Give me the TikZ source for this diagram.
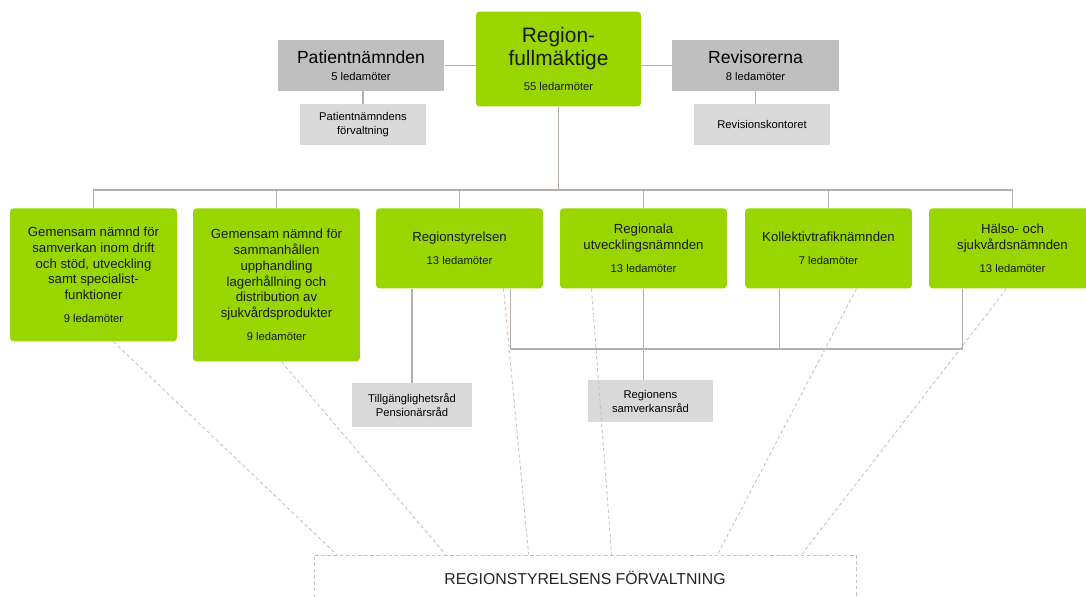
\documentclass[tikz,border=0pt]{standalone}
\usepackage{fontspec}
\setmainfont{Liberation Sans}
\usetikzlibrary{calc}

\definecolor{grn}{HTML}{99D600}
\definecolor{hdgray}{HTML}{BFBFBF}
\definecolor{subgray}{HTML}{D9D9D9}
\definecolor{linegray}{HTML}{B8AEA8}
\definecolor{dashgray}{HTML}{C4C4C4}

\newcommand{\ledam}[1]{{\fontsize{6.4}{8}\selectfont #1 ledamöter}}

\tikzset{
  greenbox/.style={fill=grn, rounded corners=2pt, minimum width=3.34cm, align=center, inner sep=0pt,
    font=\fontsize{7.5}{9}\selectfont, text=black!90},
  headbox/.style={fill=hdgray, minimum width=3.34cm, minimum height=1.02cm, align=center, inner sep=0pt,
    font=\fontsize{10}{11}\selectfont},
  subbox/.style={fill=subgray, align=center, inner sep=0pt, font=\fontsize{6.4}{8}\selectfont},
  conn/.style={draw=linegray, line width=0.8pt},
  dotline/.style={draw=dashgray, line width=0.5pt, dash pattern=on 2pt off 1.5pt}
}

\begin{document}
\begin{tikzpicture}[x=0.02cm, y=-0.02cm]
    \useasboundingbox (0,0) rectangle (1086,596);

    % top level
    \node[greenbox, minimum width=3.3cm, minimum height=1.9cm, font=\fontsize{11.9}{13}\selectfont] (rf) at (558.5,59)
        {Region-\\fullmäktige\\[1pt]{\fontsize{6.4}{8}\selectfont 55 ledarmöter}};
    \node[headbox] (pn) at (361,65.5) {Patientnämnden\\[-1pt]\ledam{5}};
    \node[headbox] (rev) at (755.5,65.5) {Revisorerna\\[-1pt]\ledam{8}};
    \node[subbox, minimum width=2.52cm, minimum height=0.82cm] (pnf) at (363,124.5)
        {Patientnämndens\\förvaltning};
    \node[subbox, minimum width=2.74cm, minimum height=0.82cm] (rk) at (762,124.5) {Revisionskontoret};

    \draw[conn] (pn.east) -- (rf.west |- pn.east);
    \draw[conn] (rev.west) -- (rf.east |- rev.west);
    \draw[conn] (pnf.north |- pn.south) -- (pnf.north);
    \draw[conn] (rev.south) -- (rev.south |- rk.north);

    % committees
    \node[greenbox, minimum height=2.66cm, anchor=north] (b1) at (93.5,208)
        {Gemensam nämnd för\\samverkan inom drift\\och stöd, utveckling\\samt specialist-\\funktioner\\[4pt]\ledam{9}};
    \node[greenbox, minimum height=3.06cm, anchor=north] (b2) at (276.5,208)
        {Gemensam nämnd för\\sammanhållen\\upphandling\\lagerhållning och\\distribution av\\sjukvårdsprodukter\\[4pt]\ledam{9}};
    \node[greenbox, minimum height=1.6cm, anchor=north] (rs) at (459.5,208)
        {Regionstyrelsen\\[4pt]\ledam{13}};
    \node[greenbox, minimum height=1.6cm, anchor=north] (run) at (643.5,208)
        {Regionala\\utvecklingsnämnden\\[4pt]\ledam{13}};
    \node[greenbox, minimum height=1.6cm, anchor=north] (kt) at (828.5,208)
        {Kollektivtrafiknämnden\\[4pt]\ledam{7}};
    \node[greenbox, minimum height=1.6cm, anchor=north] (hs) at (1012.5,208)
        {Hälso- och\\sjukvårdsnämnden\\[4pt]\ledam{13}};

    \coordinate (topbus) at (0,190);
    \draw[conn] (rf.south) -- (rf.south |- topbus);
    \draw[conn] (b1.north) -- (b1.north |- topbus) -- (hs.north |- topbus) -- (hs.north);
    \foreach \n in {b2, rs, run, kt}
        \draw[conn] (\n.north) -- (\n.north |- topbus);

    % councils
    \node[subbox, minimum width=2.4cm, minimum height=0.88cm] (tg) at (412,405)
        {Tillgänglighetsråd\\Pensionärsråd};
    \node[subbox, minimum width=2.5cm, minimum height=0.84cm] (sam) at (650.5,401)
        {Regionens\\samverkansråd};

    \coordinate (lowbus) at (0,349);
    \coordinate (rsr) at ($(rs.south east)+(-33,0)$);
    \coordinate (ktl) at ($(kt.south west)+(35,0)$);
    \coordinate (hsl) at ($(hs.south west)+(34,0)$);
    \draw[conn] (tg.north |- rs.south) -- (tg.north);
    \draw[conn] (rsr) |- (hsl |- lowbus) -- (hsl);
    \draw[conn] (ktl) -- (ktl |- lowbus);
    \draw[conn] (run.south) -- (run.south |- sam.north);

    % administration
    \node[dotline, minimum width=10.84cm, minimum height=0.92cm, inner sep=0pt,
        font=\fontsize{9}{10}\selectfont, text=black!85] (fv) at (585,578) {REGIONSTYRELSENS FÖRVALTNING};

    \foreach \n/\dx/\ex in {b1/20/23, b2/5/132, rs/44/215, run/-52/298, kt/28/404, hs/-6/488}
        \draw[dotline] ($(\n.south)+(\dx,0)$) -- ($(fv.north west)+(\ex,0)$);
\end{tikzpicture}
\end{document}
